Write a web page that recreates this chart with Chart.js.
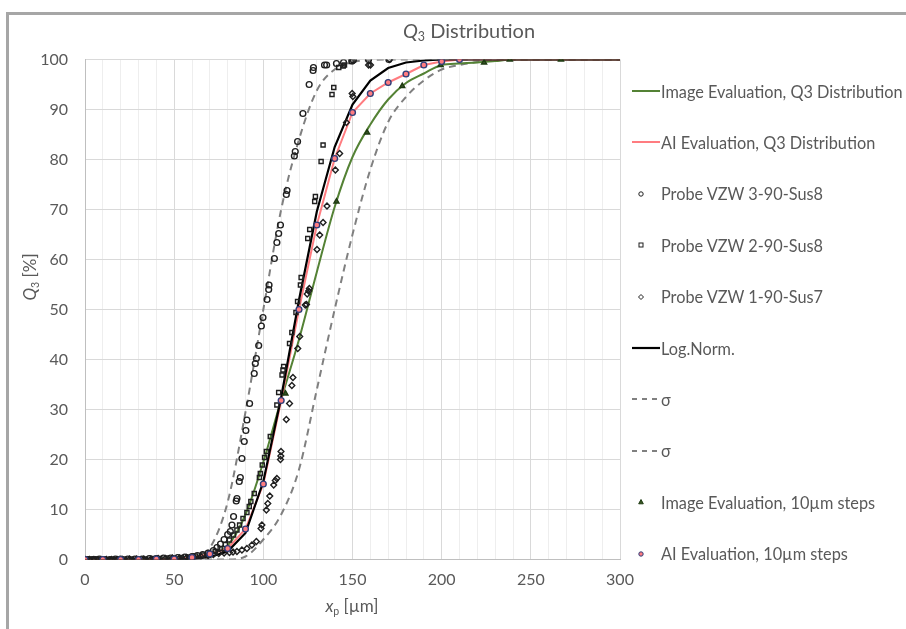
<!DOCTYPE html>
<html>
<head>
<meta charset="utf-8">
<title>Q3 Distribution</title>
<script src="https://cdn.jsdelivr.net/npm/chart.js@4.4.1/dist/chart.umd.min.js"></script>
<style>
  html, body { margin: 0; padding: 0; background: #fff; }
  #wrap { position: relative; width: 906px; height: 629px; overflow: hidden; font-family: Lato, "Open Sans", sans-serif; color: #595959; }
  #chart { position: absolute; left: 0; top: 0; }
  #frame { position: absolute; left: 6px; top: 12px; right: -10px; bottom: -10px; border-left: 3px solid #a6a6a6; border-top: 3px solid #a6a6a6; pointer-events: none; }
  .txt { position: absolute; white-space: nowrap; line-height: 1; }
  .txt sub { font-size: 0.62em; vertical-align: -0.25em; }
  #title { left: 469px; top: 20px; font-size: 20px; transform: translateX(-50%); }
  #ytitle { left: 31px; top: 277px; font-size: 17px; transform: translate(-50%, -50%) rotate(-90deg); }
  #xtitle { left: 352px; top: 597px; font-size: 17px; transform: translateX(-50%); }
  .item { position: absolute; left: 632px; height: 20px; display: flex; align-items: center; font-size: 16.3px; white-space: nowrap; }
  .item svg { width: 28px; height: 14px; margin-right: 1px; }
</style>
</head>
<body>
<div id="wrap">
  <canvas id="chart" width="906" height="629"></canvas>
  <div id="frame"></div>
  <div class="txt" id="title"><i>Q</i><sub>3</sub> Distribution</div>
  <div class="txt" id="ytitle"><i>Q</i><sub>3</sub> [%]</div>
  <div class="txt" id="xtitle"><i>x</i><sub>p</sub> [µm]</div>
  <div id="legend"></div>
</div>
<script>
// 10 µm grid used by the fitted / evaluated curves
const xGrid = [0,10,20,30,40,50,60,70,80,90,100,110,120,130,140,150,160,170,180,190,200,210,220,230,240,250,260,270,280,290,300];

const imgQ3 = [0,0,0,0,0.1,0.3,0.6,1.2,2.8,9.0,19.5,32.0,44.0,57.5,70.5,80.5,87.0,92.0,95.3,97.2,98.9,99.2,99.4,99.7,100,100,100,100,100,100,100];
const aiQ3 = [0,0,0,0,0.1,0.1,0.4,1.1,2.2,6.1,15.1,31.8,50.0,66.9,80.2,89.4,93.2,95.4,97.1,98.9,99.6,100,100,100,100,100,100,100,100,100,100];
const logNorm = [0,0,0,0,0,0,0.1,0.5,1.6,5.3,15.6,32.4,51.9,69.6,82.5,91.0,95.8,98.3,99.4,99.8,100,100,100,100,100,100,100,100,100,100,100];
const sigmaLow = [0,0,0,0,0,0,0.1,2.3,11.5,29.5,50,70,84,93.8,98,99.5,99.9,100,100,100,100,100,100,100,100,100,100,100,100,100,100];
const sigmaHigh = [0,0,0,0,0,0,0,0,0,0.6,4,9,18,34,50,65,78,87.5,92.5,95.8,98,98.9,99.5,99.8,100,100,100,100,100,100,100];

// AI evaluation markers (10 µm steps)
const aiStepX = [0,10,20,30,40,50,60,70,80,90,100,110,120,130,140,150,160,170,180,190,200,210];
const aiStepY = [0,0,0,0,0.1,0.1,0.4,1.1,2.2,6.1,15.1,31.8,50.0,66.9,80.2,89.4,93.2,95.4,97.1,98.9,99.6,100];

// image evaluation markers
const imgStepX = [112.4,141,158.2,177.9,199.4,223.8,238.2,266.9];
const imgStepY = [33.2,71.6,85.4,94.7,98.9,99.4,100,100];

// Probe VZW 3-90-Sus8 (circles)
const probe3X = [0.5,2,4,6,8,11,14,17,20,24,28,32,36,40,44,48,52,56,60,63,66,69,72,74,76,78,80,81.5,82.4,83.3,84.8,85.2,86.5,87.1,88,89.3,90.2,90.8,92.3,94.9,95.5,96.1,97.4,98.9,99.8,102.1,103,103.2,106.2,107.6,108.6,109.6,112.9,113.3,117.4,117.9,119.2,122.2,125.7,127.9,128.1,134.3,135.5,141,145,149.8,150.5,159,170.4];
const probe3Y = [0,0,0,0,0.1,0,0,0.1,0.1,0.1,0.1,0.1,0.2,0.2,0.3,0.3,0.4,0.5,0.6,0.8,1.0,1.3,1.8,2.4,3.1,4.0,5.0,5.6,6.9,8.6,11.7,12.2,15.6,16.4,20.2,23.6,25.8,27.9,31.2,37.2,39.2,40.2,42.8,46.7,48.4,52,54,54.9,60.2,63.4,65.2,66.9,73,73.8,80.7,81.6,83.6,89.2,95,97.8,98.4,98.9,98.9,99.2,99.4,99.7,99.9,100,100];

// Probe VZW 2-90-Sus8 (squares)
const probe2X = [1,3,5,7,10,13,16,19,22,26,30,34,38,42,46,50,54,58,62,66,70,73,75.8,78.7,81,83.3,85.2,86.7,88.6,90.8,92.1,93,94.9,97.8,98.3,99.4,100.7,101.7,103.9,107.6,108.6,110.5,111,111.4,114.7,116,118.3,119.2,120.8,121.2,124.9,126,128.8,129.2,132.4,133.5,138.5,139.5,142.3,144.8,145.5,149.2];
const probe2Y = [0,0,0,0,0,0,0,0,0.1,0.1,0.1,0.1,0.2,0.2,0.3,0.3,0.4,0.5,0.7,0.9,1.2,1.6,2.2,3.0,3.9,4.9,5.9,6.9,8.2,9.4,10.6,11.6,13.2,16.4,17.2,18.9,20.4,21.6,24.6,30.9,33.4,36.9,37.9,38.6,43.2,45.4,49.4,51.6,54.9,56.4,64.2,66,71.6,72.6,79.6,82.9,93,94.4,98.4,98.7,98.9,99.6];

// Probe VZW 1-90-Sus7 (diamonds)
const probe1X = [0,2.5,5,9,12,15,18,21,25,29,33,37,41,45,49,53,57,61,65,69,72,75,78,81,83,85.2,88,90.8,93.6,96.1,98.7,99.2,101.7,102.5,103.6,105.8,106.7,107.6,109.6,109.8,109.9,112.9,114.7,116,116.6,119.3,120.4,123.5,124.2,124.6,125.4,125.8,130.1,131.6,133.5,135.7,140.4,142.8,146.6,149.8,150.2,159,160.1,170.8];
const probe1Y = [0,0,0,0,0,0,0,0,0.1,0.1,0.1,0.1,0.2,0.2,0.3,0.3,0.4,0.5,0.6,0.8,1.0,1.2,1.3,1.4,1.5,1.6,1.9,2.2,2.9,3.6,6.2,6.9,9.9,11.2,12.7,14.9,15.8,16.2,20,20.7,21.6,28,31.2,34.8,36.4,42.2,44.6,50.9,51,53.1,53.7,54.2,62,64.9,67.4,70.7,77.9,81.2,87.4,93.2,92.6,98.9,98.9,100];

const yTicks = [0,10,20,30,40,50,60,70,80,90,100];
const xTickLabels = [0,50,100,150,200,250,300];

const FONT = 'Lato, "Open Sans", sans-serif';
const TEXT = '#595959';
const GREEN = '#548235';
const RED = '#ff7c80';
const GREY = '#808080';
const MARK = '#1f1f1f';

const pts = (xs, ys) => xs.map((x, i) => ({ x: x, y: ys[i] }));

function lineSet(label, ys, color, width, dash, smooth, order) {
  return {
    label: label,
    data: pts(xGrid, ys),
    showLine: true,
    borderColor: color,
    borderWidth: width,
    borderDash: dash,
    pointRadius: 0,
    fill: false,
    cubicInterpolationMode: smooth ? 'monotone' : 'default',
    tension: 0,
    order: order
  };
}

function markSet(label, xs, ys, style, fill, border, order) {
  return {
    label: label,
    data: pts(xs, ys),
    showLine: false,
    pointStyle: style,
    pointRadius: 2.9,
    pointBorderWidth: 1.4,
    pointBackgroundColor: fill,
    pointBorderColor: border,
    order: order
  };
}

const datasets = [
  lineSet('Image Evaluation, Q3 Distribution', imgQ3, GREEN, 2, [], true, 8),
  lineSet('AI Evaluation, Q3 Distribution', aiQ3, RED, 2, [], false, 7),
  markSet('Probe VZW 3-90-Sus8', probe3X, probe3Y, 'circle', 'rgba(255,255,255,0)', MARK, 4),
  markSet('Probe VZW 2-90-Sus8', probe2X, probe2Y, 'rect', 'rgba(255,255,255,0)', MARK, 3),
  markSet('Probe VZW 1-90-Sus7', probe1X, probe1Y, 'rectRot', 'rgba(255,255,255,0)', MARK, 5),
  lineSet('Log.Norm.', logNorm, '#000000', 2.2, [], false, 6),
  lineSet('σ', sigmaLow, GREY, 2, [7, 5], true, 9),
  lineSet('σ', sigmaHigh, GREY, 2, [7, 5], true, 10),
  markSet('Image Evaluation, 10µm steps', imgStepX, imgStepY, 'triangle', '#375623', '#1e3a12', 2),
  markSet('AI Evaluation, 10µm steps', aiStepX, aiStepY, 'circle', RED, '#2f3e7a', 1)
];

const ctx = document.getElementById('chart').getContext('2d');
const chart = new Chart(ctx, {
  type: 'scatter',
  data: { datasets: datasets },
  options: {
    responsive: false,
    animation: false,
    events: [],
    layout: { padding: { left: 10, right: 286, top: 59.5, bottom: 39.5 } },
    plugins: {
      legend: { display: false },
      tooltip: { enabled: false }
    },
    scales: {
      x: {
        type: 'linear',
        min: 0,
        max: 300,
        afterBuildTicks: (scale) => {
          scale.ticks = xGrid.map(v => ({ value: v }));
        },
        ticks: {
          autoSkip: false,
          maxRotation: 0,
          padding: 11,
          color: TEXT,
          font: { family: FONT, size: 16 },
          callback: (v) => xTickLabels.includes(v) ? String(v) : ''
        },
        grid: {
          drawTicks: false,
          lineWidth: 1,
          color: (c) => (c.tick && xTickLabels.includes(c.tick.value)) ? '#d9d9d9' : '#eeeeee'
        },
        border: { color: '#bfbfbf' },
        afterFit: (scale) => { scale.height = 30; }
      },
      y: {
        type: 'linear',
        min: 0,
        max: 100,
        afterBuildTicks: (scale) => {
          scale.ticks = yTicks.map(v => ({ value: v }));
        },
        ticks: {
          padding: 17,
          color: TEXT,
          font: { family: FONT, size: 16 }
        },
        grid: { drawTicks: false, color: '#d9d9d9' },
        border: { color: '#bfbfbf' },
        afterFit: (scale) => { scale.width = 75; }
      }
    }
  }
});

// legend (HTML), icons follow the dataset styles
const legend = document.getElementById('legend');
function iconSvg(ds) {
  if (ds.showLine) {
    const dash = ds.borderDash && ds.borderDash.length ? ' stroke-dasharray="5,5"' : '';
    return '<svg viewBox="0 0 28 14"><line x1="0" y1="7" x2="28" y2="7" stroke="' + ds.borderColor +
      '" stroke-width="' + ds.borderWidth + '"' + dash + '/></svg>';
  }
  const f = ds.pointBackgroundColor, s = ds.pointBorderColor;
  let shape;
  if (ds.pointStyle === 'rect') shape = '<rect x="7" y="5" width="4" height="4" fill="' + f + '" stroke="' + s + '"/>';
  else if (ds.pointStyle === 'rectRot') shape = '<polygon points="9,4.5 11.5,7 9,9.5 6.5,7" fill="' + f + '" stroke="' + s + '"/>';
  else if (ds.pointStyle === 'triangle') shape = '<polygon points="9,4.5 11.3,8.8 6.7,8.8" fill="' + f + '" stroke="' + s + '"/>';
  else shape = '<circle cx="9" cy="7" r="2.2" fill="' + (f.indexOf('rgba') === 0 ? 'none' : f) + '" stroke="' + s + '"/>';
  return '<svg viewBox="0 0 28 14">' + shape + '</svg>';
}
datasets.forEach((ds, i) => {
  const el = document.createElement('div');
  el.className = 'item';
  el.style.top = (81 + i * 51.4) + 'px';
  el.innerHTML = iconSvg(ds) + '<span>' + ds.label + '</span>';
  legend.appendChild(el);
});
</script>
</body>
</html>
